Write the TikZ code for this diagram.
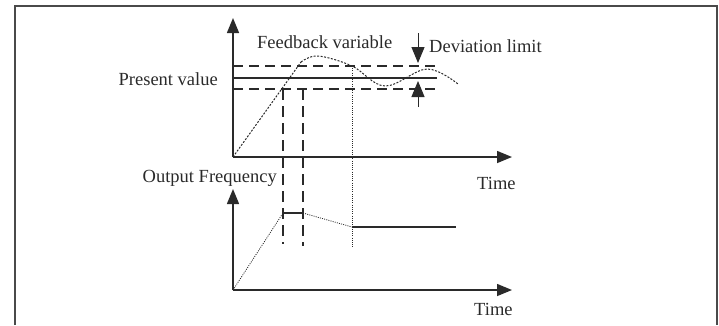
\documentclass[tikz,border=0pt]{standalone}
\usepackage{fontspec}
\setmainfont{Liberation Serif}
\usetikzlibrary{arrows.meta}
\definecolor{ink}{HTML}{2A2A2A}
\begin{document}
\begin{tikzpicture}[x=1pt,y=-1pt,
  frame/.style={draw=ink!85, line width=2pt},
  axis/.style={draw=ink, line width=1.5pt, -{Triangle[length=15pt,width=12pt]}},
  devarrow/.style={draw=ink, line width=1pt, -{Triangle[length=16pt,width=13pt]}},
  level/.style={draw=ink, line width=1.1pt},
  limit/.style={draw=ink, line width=1.1pt, dash pattern=on 10pt off 6pt},
  guide/.style={draw=ink, line width=1.1pt, dash pattern=on 11pt off 6pt},
  trace/.style={draw=ink, line width=1pt, dash pattern=on 2pt off 1.5pt},
  fine/.style={draw=ink, line width=0.8pt, dash pattern=on 1pt off 1.2pt},
  lbl/.style={inner sep=0pt, text=ink, font=\fontsize{18.5}{20}\selectfont}]
\useasboundingbox (0,0) rectangle (719,325);
% frame (open at the bottom)
\draw[frame] (15,325) -- (15,6) -- (717,6) -- (717,325);

% ---------- upper graph ----------
\coordinate (o1) at (233,157);
\coordinate (y1) at (233,18);
\coordinate (x1) at (512,157);
\draw[axis] (o1) -- (y1);
\draw[axis] (o1) -- (x1);

\coordinate (hiL) at (233,66);  \coordinate (hiR) at (437,66);
\coordinate (pvL) at (233,78);  \coordinate (pvR) at (437,78);
\coordinate (loL) at (233,89);  \coordinate (loR) at (437,89);
\draw[limit] (hiL) -- (hiR);
\draw[level] (pvL) -- (pvR);
\draw[limit] (loL) -- (loR);

% feedback variable curve
\coordinate (f1) at (301,62);
\draw[trace] (o1) -- (f1);
\draw[trace] plot[smooth, tension=0.6] coordinates
  {(301,62) (318,56) (352,66) (385,86) (427,69) (458,84)};

% guides
\coordinate (g1t) at (283,89);  \coordinate (g1b) at (283,244);
\coordinate (g2t) at (303,89);  \coordinate (g2b) at (303,246);
\coordinate (g3t) at (352,66);  \coordinate (g3b) at (352,247);
\draw[guide] (g1t) -- (g1b);
\draw[guide] (g2t) -- (g2b);
\draw[fine] (g3t) -- (g3b);

% deviation limit arrows
\coordinate (d1s) at (418,33);  \coordinate (d1e) at (418,63);
\coordinate (d2s) at (418,107); \coordinate (d2e) at (418,81);
\draw[devarrow] (d1s) -- (d1e);
\draw[devarrow] (d2s) -- (d2e);

\node[lbl, anchor=west] (fb) at (257,42) {Feedback variable};
\node[lbl, anchor=west] (dl) at (429,46) {Deviation limit};
\node[lbl, anchor=east] (pv) at (218,79) {Present value};
\node[lbl, anchor=west] (t1) at (477,183) {Time};

% ---------- lower graph ----------
\coordinate (o2) at (233,290);
\coordinate (y2) at (233,189);
\coordinate (x2) at (512,290);
\draw[axis] (o2) -- (y2);
\draw[axis] (o2) -- (x2);

\coordinate (p1) at (283,213);
\coordinate (p2) at (303,213);
\coordinate (p3) at (352,227);
\coordinate (p4) at (456,227);
\draw[fine] (o2) -- (p1);
\draw[level] (p1) -- (p2);
\draw[fine] (p2) -- (p3);
\draw[level] (p3) -- (p4);

\node[lbl, anchor=east] (of) at (277,178) {Output Frequency};
\node[lbl, anchor=west] (t2) at (474,309) {Time};
\end{tikzpicture}
\end{document}
